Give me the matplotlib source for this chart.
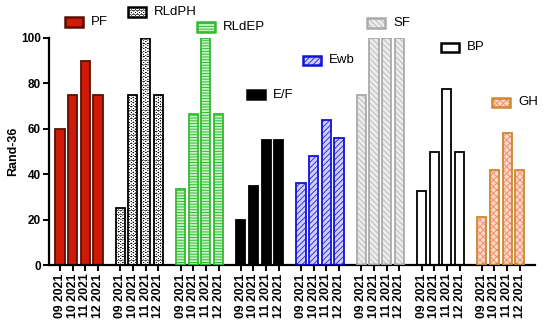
import matplotlib
matplotlib.use("Agg")
import matplotlib.pyplot as plt
from matplotlib.patches import Rectangle
import numpy as np

plt.rcParams['font.family'] = ['Liberation Sans', 'DejaVu Sans']

months = ["09 2021", "10 2021", "11 2021", "12 2021"]
series_names = ["PF", "RLdPH", "RLdEP", "E/F", "Ewb", "SF", "BP", "GH"]
pf = [60, 75, 90, 75]
rldph = [25, 75, 100, 75]
rldep = [33.3, 66.7, 100, 66.7]
ef = [20, 35, 55, 55]
ewb = [36, 48, 64, 56]
sf = [75, 100, 100, 100]
bp = [32.5, 50, 77.5, 50]
gh = [21, 42, 58, 42]
values = [pf, rldph, rldep, ef, ewb, sf, bp, gh]

# style: (face, hatch, hatch color, edge color)
styles = [
    ("#d01a08", None, None, "#5a1000"),
    ("#000000", "OOOO", "#ffffff", "#000000"),
    ("#c8f5c8", "------", "#33bb33", "#33bb33"),
    ("#000000", None, None, "#000000"),
    ("#d0d0ff", "//////", "#3333dd", "#1111dd"),
    ("#ececec", "\\\\\\\\\\\\", "#bbbbbb", "#aaaaaa"),
    ("#ffffff", None, None, "#000000"),
    ("#ffd8c8", "xxxxx", "#f09070", "#cc8833"),
]

# legend label positions in figure pixels (patch left, center y)
leg_pos = [(65, 22), (128, 12), (197, 27), (247, 95), (303, 60), (367, 23), (441, 47), (492, 102)]

W, H = 550, 324
fig = plt.figure(figsize=(W / 100, H / 100), dpi=100)
ax = fig.add_axes([49 / W, 1 - 265 / H, (535 - 49) / W, (265 - 38) / H])

group_step = 4.76
bw = 0.72
lw = 1.3
plt.rcParams['hatch.linewidth'] = 0.7

xticks, xlabels = [], []
for g, (vals, st) in enumerate(zip(values, styles)):
    face, hatch, hcol, ecol = st
    xs = g * group_step + np.arange(len(vals))
    if hatch:
        ax.bar(xs, vals, width=bw, color=face, hatch=hatch, edgecolor=hcol, linewidth=0, zorder=2)
        ax.bar(xs, vals, width=bw, facecolor="none", edgecolor=ecol, linewidth=lw, zorder=3)
    else:
        ax.bar(xs, vals, width=bw, color=face, edgecolor=ecol, linewidth=lw, zorder=2)
    xticks.extend(xs)
    xlabels.extend(months)
    # legend patch
    px, py = leg_pos[g]
    pw, ph = 18, 9
    if hatch:
        r1 = Rectangle((px / W, 1 - (py + ph / 2) / H), pw / W, ph / H, transform=fig.transFigure,
                       facecolor=face, hatch=hatch, edgecolor=hcol, linewidth=0)
        fig.patches.append(r1)
        r2 = Rectangle((px / W, 1 - (py + ph / 2) / H), pw / W, ph / H, transform=fig.transFigure,
                       facecolor="none", edgecolor=ecol, linewidth=1.8)
        fig.patches.append(r2)
    else:
        r = Rectangle((px / W, 1 - (py + ph / 2) / H), pw / W, ph / H, transform=fig.transFigure,
                      facecolor=face, edgecolor=ecol, linewidth=1.8)
        fig.patches.append(r)
    fig.text((px + pw + 8) / W, 1 - py / H, series_names[g], fontsize=9.5, va="center", ha="left")

ax.set_xlim(-0.87, 7 * group_step + 3 + 1.2)
ax.set_ylim(0, 100)
ax.set_yticks([0, 20, 40, 60, 80, 100])
ax.set_yticklabels(["0", "20", "40", "60", "80", "100"], fontweight="bold", fontsize=8.5)
ax.set_xticks(xticks)
ax.set_xticklabels(xlabels, rotation=90, fontweight="bold", fontsize=8.8)
ax.set_ylabel("Rand-36", fontweight="bold", fontsize=9, labelpad=1)
for s in ["top", "right"]:
    ax.spines[s].set_visible(False)
for s in ["left", "bottom"]:
    ax.spines[s].set_linewidth(1.6)
ax.tick_params(axis="both", direction="out", length=4, width=1.4, pad=2)

fig.savefig("out.png", dpi=100)
